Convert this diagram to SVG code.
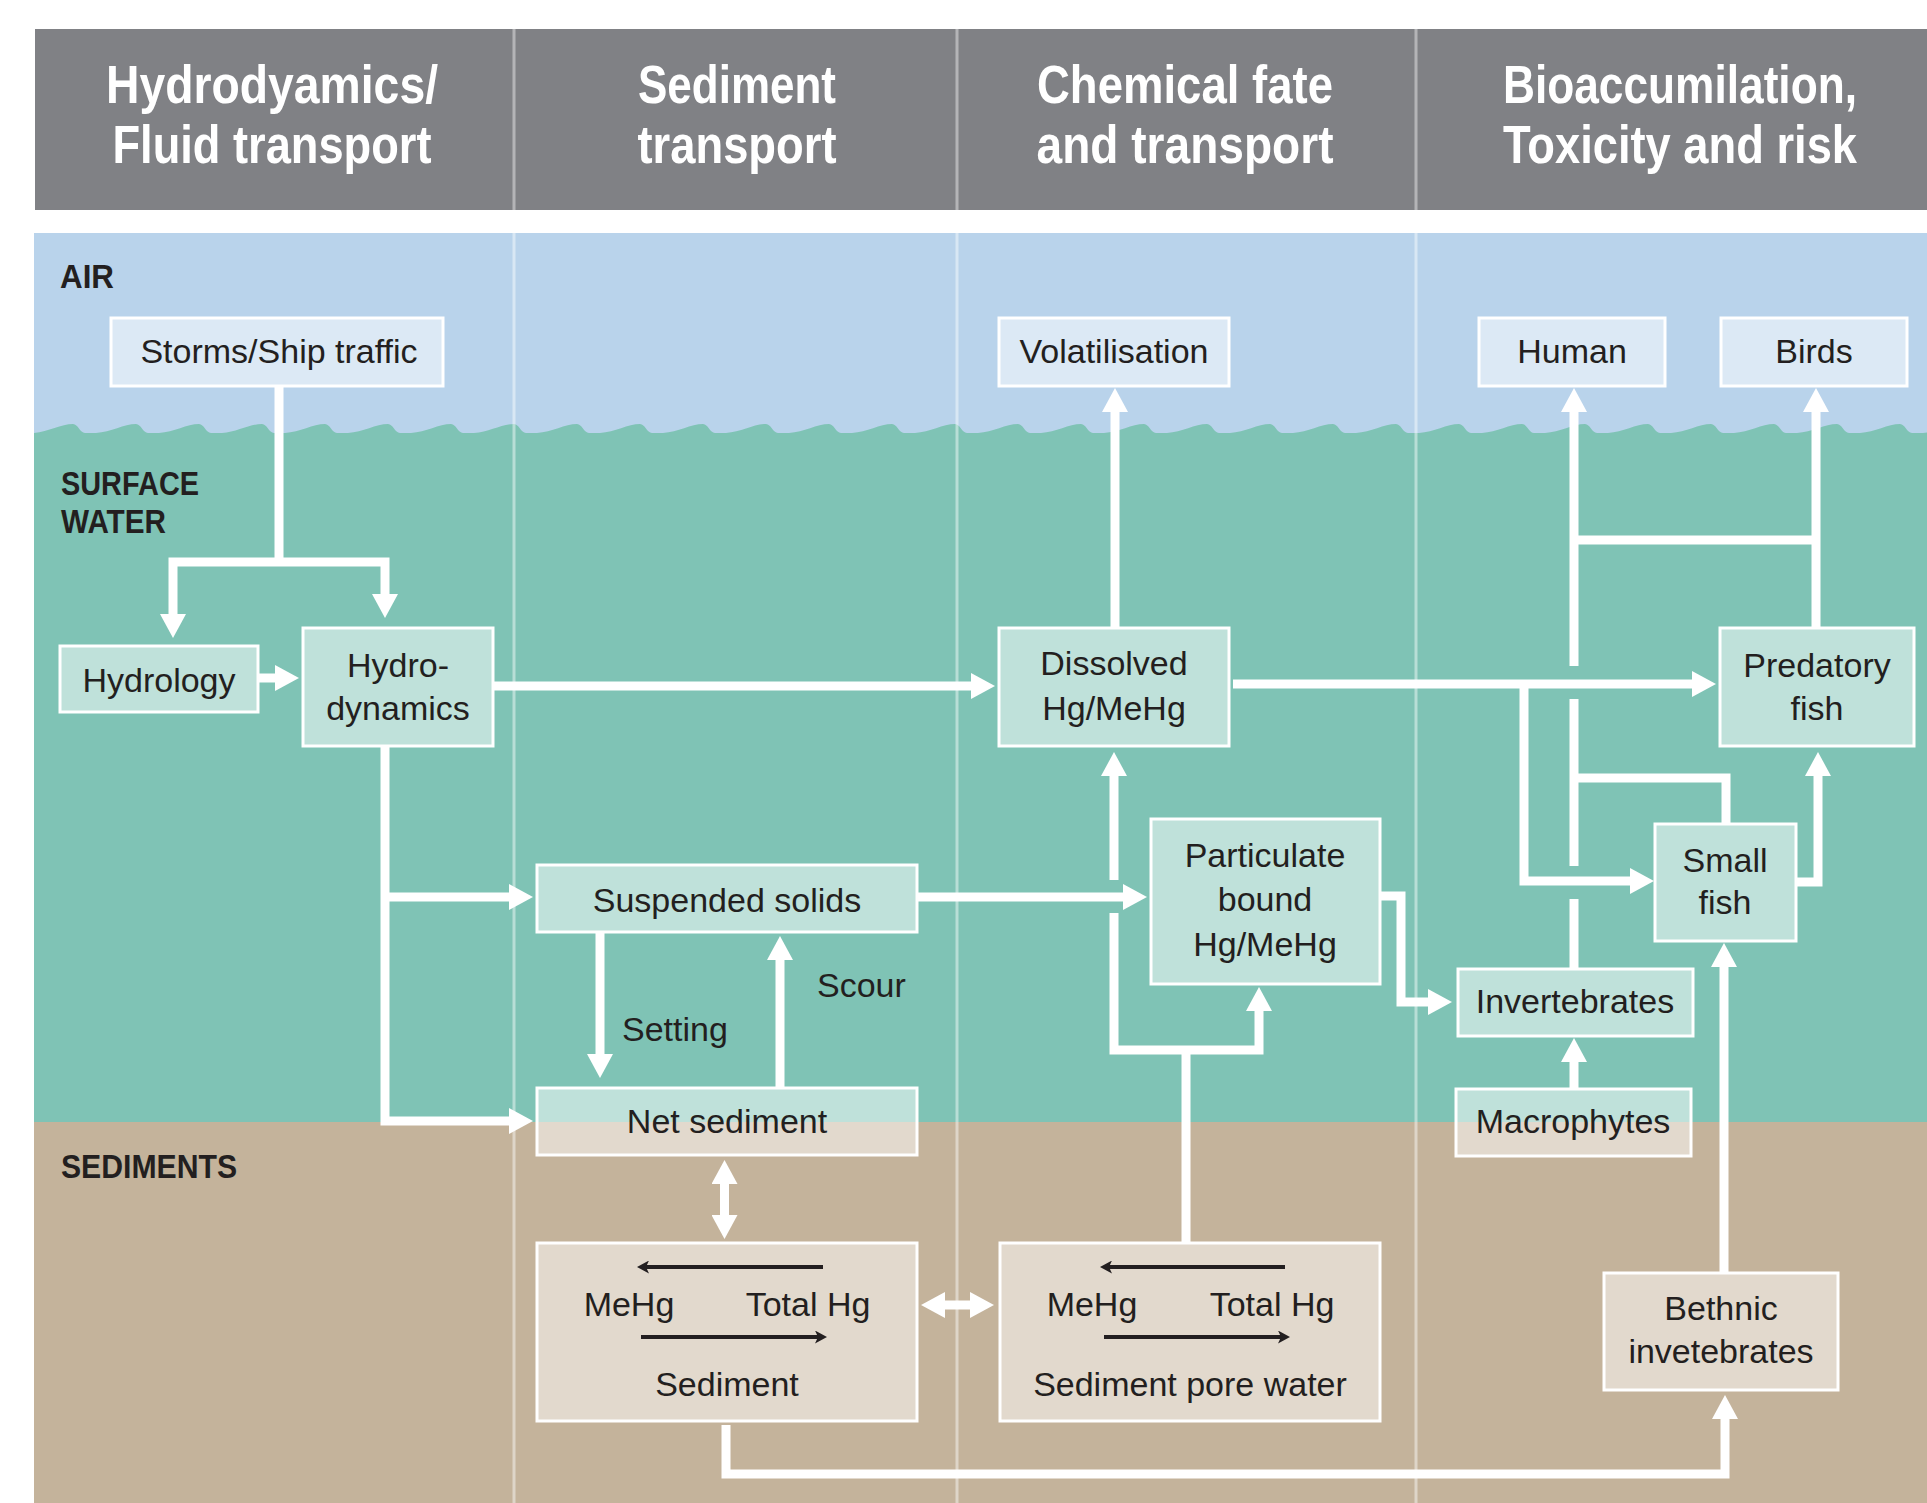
<svg xmlns="http://www.w3.org/2000/svg" width="1927" height="1503" viewBox="0 0 1927 1503">
<style>
.hdr{font-family:"Liberation Sans",Arial,sans-serif;font-weight:bold;font-size:53px;fill:#fff;text-anchor:middle}
.zone{font-family:"Liberation Sans",Arial,sans-serif;font-weight:bold;font-size:34px;fill:#231f20}
.t{font-family:"Liberation Sans",Arial,sans-serif;font-size:34px;fill:#231f20;text-anchor:middle}
.tl{font-family:"Liberation Sans",Arial,sans-serif;font-size:34px;fill:#231f20}
.box{fill:#fff;fill-opacity:.5;stroke:#fff;stroke-width:3}
.c{fill:none;stroke:#fff;stroke-width:9;stroke-linejoin:miter;stroke-linecap:butt}
.a{marker-end:url(#ah)}
.bk{fill:none;stroke:#231f20;stroke-width:4;marker-end:url(#bh)}
.div{stroke:#fff;stroke-opacity:.45;stroke-width:3}
</style>
<defs>
<marker id="ah" markerUnits="userSpaceOnUse" markerWidth="24" markerHeight="26" viewBox="0 0 24 26" refX="12" refY="13" orient="auto-start-reverse">
<path d="M0,0 L24,13 L0,26 Z" fill="#fff"/>
</marker>
<marker id="bh" markerUnits="userSpaceOnUse" markerWidth="12" markerHeight="13" viewBox="0 0 12 13" refX="6" refY="6.5" orient="auto">
<path d="M0,0 L12,6.5 L0,13 L3,6.5 Z" fill="#231f20"/>
</marker>
<clipPath id="body"><rect x="34" y="233" width="1893" height="1270"/></clipPath>
</defs>
<rect width="1927" height="1503" fill="#fff"/>
<g id="header">
<rect x="35" y="29" width="1892" height="181" fill="#808185"/>
<g stroke="#b4b4b7" stroke-width="3">
<line x1="514" y1="29" x2="514" y2="210"/>
<line x1="957" y1="29" x2="957" y2="210"/>
<line x1="1416" y1="29" x2="1416" y2="210"/>
</g>
<text class="hdr" x="272" y="103" textLength="332" lengthAdjust="spacingAndGlyphs">Hydrodyamics/</text>
<text class="hdr" x="272" y="163" textLength="319" lengthAdjust="spacingAndGlyphs">Fluid transport</text>
<text class="hdr" x="737" y="103" textLength="198" lengthAdjust="spacingAndGlyphs">Sediment</text>
<text class="hdr" x="737" y="163" textLength="199" lengthAdjust="spacingAndGlyphs">transport</text>
<text class="hdr" x="1185" y="103" textLength="296" lengthAdjust="spacingAndGlyphs">Chemical fate</text>
<text class="hdr" x="1185" y="163" textLength="297" lengthAdjust="spacingAndGlyphs">and transport</text>
<text class="hdr" x="1680" y="103" textLength="354" lengthAdjust="spacingAndGlyphs">Bioaccumilation,</text>
<text class="hdr" x="1680" y="163" textLength="354" lengthAdjust="spacingAndGlyphs">Toxicity and risk</text>
</g>
<g id="background" clip-path="url(#body)">
<rect x="34" y="233" width="1893" height="220" fill="#b9d3eb"/>
<path fill="#7fc3b5" d="M33,433 c15,-1 28,-9 40,-9 c5,0 7,9 12,9 h11 c15,-1 28,-9 40,-9 c5,0 7,9 12,9 h11 c15,-1 28,-9 40,-9 c5,0 7,9 12,9 h11 c15,-1 28,-9 40,-9 c5,0 7,9 12,9 h11 c15,-1 28,-9 40,-9 c5,0 7,9 12,9 h11 c15,-1 28,-9 40,-9 c5,0 7,9 12,9 h11 c15,-1 28,-9 40,-9 c5,0 7,9 12,9 h11 c15,-1 28,-9 40,-9 c5,0 7,9 12,9 h11 c15,-1 28,-9 40,-9 c5,0 7,9 12,9 h11 c15,-1 28,-9 40,-9 c5,0 7,9 12,9 h11 c15,-1 28,-9 40,-9 c5,0 7,9 12,9 h11 c15,-1 28,-9 40,-9 c5,0 7,9 12,9 h11 c15,-1 28,-9 40,-9 c5,0 7,9 12,9 h11 c15,-1 28,-9 40,-9 c5,0 7,9 12,9 h11 c15,-1 28,-9 40,-9 c5,0 7,9 12,9 h11 c15,-1 28,-9 40,-9 c5,0 7,9 12,9 h11 c15,-1 28,-9 40,-9 c5,0 7,9 12,9 h11 c15,-1 28,-9 40,-9 c5,0 7,9 12,9 h11 c15,-1 28,-9 40,-9 c5,0 7,9 12,9 h11 c15,-1 28,-9 40,-9 c5,0 7,9 12,9 h11 c15,-1 28,-9 40,-9 c5,0 7,9 12,9 h11 c15,-1 28,-9 40,-9 c5,0 7,9 12,9 h11 c15,-1 28,-9 40,-9 c5,0 7,9 12,9 h11 c15,-1 28,-9 40,-9 c5,0 7,9 12,9 h11 c15,-1 28,-9 40,-9 c5,0 7,9 12,9 h11 c15,-1 28,-9 40,-9 c5,0 7,9 12,9 h11 c15,-1 28,-9 40,-9 c5,0 7,9 12,9 h11 c15,-1 28,-9 40,-9 c5,0 7,9 12,9 h11 c15,-1 28,-9 40,-9 c5,0 7,9 12,9 h11 c15,-1 28,-9 40,-9 c5,0 7,9 12,9 h11 c15,-1 28,-9 40,-9 c5,0 7,9 12,9 h11 V1123 H33 Z"/>
<rect x="34" y="1122" width="1893" height="381" fill="#c4b39b"/>
</g>
<g id="zone-labels">
<text class="zone" x="60" y="288" textLength="54" lengthAdjust="spacingAndGlyphs">AIR</text>
<text class="zone" x="61" y="495" textLength="138" lengthAdjust="spacingAndGlyphs">SURFACE</text>
<text class="zone" x="61" y="533" textLength="105" lengthAdjust="spacingAndGlyphs">WATER</text>
<text class="zone" x="61" y="1178" textLength="176" lengthAdjust="spacingAndGlyphs">SEDIMENTS</text>
</g>
<g id="connectors">
<path class="c" d="M279,387 V562"/>
<path class="c" d="M173,626 V562 H385 V606" marker-start="url(#ah)" marker-end="url(#ah)"/>
<path class="c a" d="M259,678 H287" stroke-width="10"/>
<path class="c a" d="M494,686 H983"/>
<path class="c a" d="M385,747 V1121 H521"/>
<path class="c a" d="M385,897 H521"/>
<path class="c a" d="M600,933 V1066"/>
<path class="c a" d="M780,1087 V948"/>
<path class="c a" d="M918,897 H1135"/>
<path class="c" d="M1186,1242 V1050"/>
<path class="c" d="M1114,880 V764" marker-end="url(#ah)"/>
<path class="c a" d="M1114,913 V1050 H1259 V999"/>
<path class="c a" d="M1115,627 V400"/>
<path class="c a" d="M1233,684 H1704"/>
<path class="c a" d="M1524,684 V881 H1642"/>
<path class="c" d="M1574,968 V899"/>
<path class="c" d="M1574,866 V699"/>
<path class="c a" d="M1574,666 V400"/>
<path class="c" d="M1574,540 H1816"/>
<path class="c a" d="M1816,627 V400"/>
<path class="c" d="M1726,823 V778 H1570"/>
<path class="c a" d="M1797,882 H1818 V764"/>
<path class="c a" d="M1574,1088 V1050"/>
<path class="c a" d="M1381,896 H1401 V1002 H1440" stroke-width="8"/>
<path class="c a" d="M1724,1272 V955"/>
<path class="c a" d="M726,1425 V1474 H1725 V1407"/>
<path class="c" d="M724.5,1172 V1227" stroke-width="8" marker-start="url(#ah)" marker-end="url(#ah)"/>
<path class="c" d="M933,1305 H982" marker-start="url(#ah)" marker-end="url(#ah)"/>
</g>
<g id="dividers" class="div">
<line x1="514" y1="233" x2="514" y2="1503"/>
<line x1="957" y1="233" x2="957" y2="1503"/>
<line x1="1416" y1="233" x2="1416" y2="1503"/>
</g>
<g id="node-storms"><rect class="box" x="111" y="318" width="332" height="68"/><text class="t" x="279" y="363">Storms/Ship traffic</text></g>
<g id="node-volatilisation"><rect class="box" x="999" y="318" width="230" height="68"/><text class="t" x="1114" y="363">Volatilisation</text></g>
<g id="node-human"><rect class="box" x="1479" y="318" width="186" height="68"/><text class="t" x="1572" y="363">Human</text></g>
<g id="node-birds"><rect class="box" x="1721" y="318" width="186" height="68"/><text class="t" x="1814" y="363">Birds</text></g>
<g id="node-hydrology"><rect class="box" x="60" y="646" width="198" height="66"/><text class="t" x="159" y="692">Hydrology</text></g>
<g id="node-hydrodynamics"><rect class="box" x="303" y="628" width="190" height="118"/><text class="t" x="398" y="677">Hydro-</text><text class="t" x="398" y="720">dynamics</text></g>
<g id="node-dissolved"><rect class="box" x="999" y="628" width="230" height="118"/><text class="t" x="1114" y="675">Dissolved</text><text class="t" x="1114" y="720">Hg/MeHg</text></g>
<g id="node-predatory"><rect class="box" x="1720" y="628" width="194" height="118"/><text class="t" x="1817" y="677">Predatory</text><text class="t" x="1817" y="720">fish</text></g>
<g id="node-smallfish"><rect class="box" x="1655" y="824" width="141" height="117"/><text class="t" x="1725" y="872">Small</text><text class="t" x="1725" y="914">fish</text></g>
<g id="node-particulate"><rect class="box" x="1151" y="819" width="229" height="165"/><text class="t" x="1265" y="867">Particulate</text><text class="t" x="1265" y="911">bound</text><text class="t" x="1265" y="956">Hg/MeHg</text></g>
<g id="node-invertebrates"><rect class="box" x="1458" y="969" width="235" height="67"/><text class="t" x="1575" y="1013">Invertebrates</text></g>
<g id="node-macrophytes"><rect class="box" x="1456" y="1089" width="235" height="67"/><text class="t" x="1573" y="1133">Macrophytes</text></g>
<g id="node-suspended"><rect class="box" x="537" y="865" width="380" height="67"/><text class="t" x="727" y="912">Suspended solids</text></g>
<g id="node-netsediment"><rect class="box" x="537" y="1088" width="380" height="67"/><text class="t" x="727" y="1133">Net sediment</text></g>
<g id="label-setting"><text class="tl" x="622" y="1041">Setting</text></g>
<g id="label-scour"><text class="tl" x="817" y="997">Scour</text></g>
<g id="node-sediment"><rect class="box" x="537" y="1243" width="380" height="178"/>
<path class="bk" d="M823,1267 H643"/><path class="bk" d="M641,1337 H821"/>
<text class="t" x="629" y="1316">MeHg</text><text class="t" x="808" y="1316">Total Hg</text><text class="t" x="727" y="1396">Sediment</text></g>
<g id="node-porewater"><rect class="box" x="1000" y="1243" width="380" height="178"/>
<path class="bk" d="M1285,1267 H1106"/><path class="bk" d="M1104,1337 H1284"/>
<text class="t" x="1092" y="1316">MeHg</text><text class="t" x="1272" y="1316">Total Hg</text><text class="t" x="1190" y="1396">Sediment pore water</text></g>
<g id="node-benthic"><rect class="box" x="1604" y="1273" width="234" height="117"/><text class="t" x="1721" y="1320">Bethnic</text><text class="t" x="1721" y="1363">invetebrates</text></g>
</svg>
